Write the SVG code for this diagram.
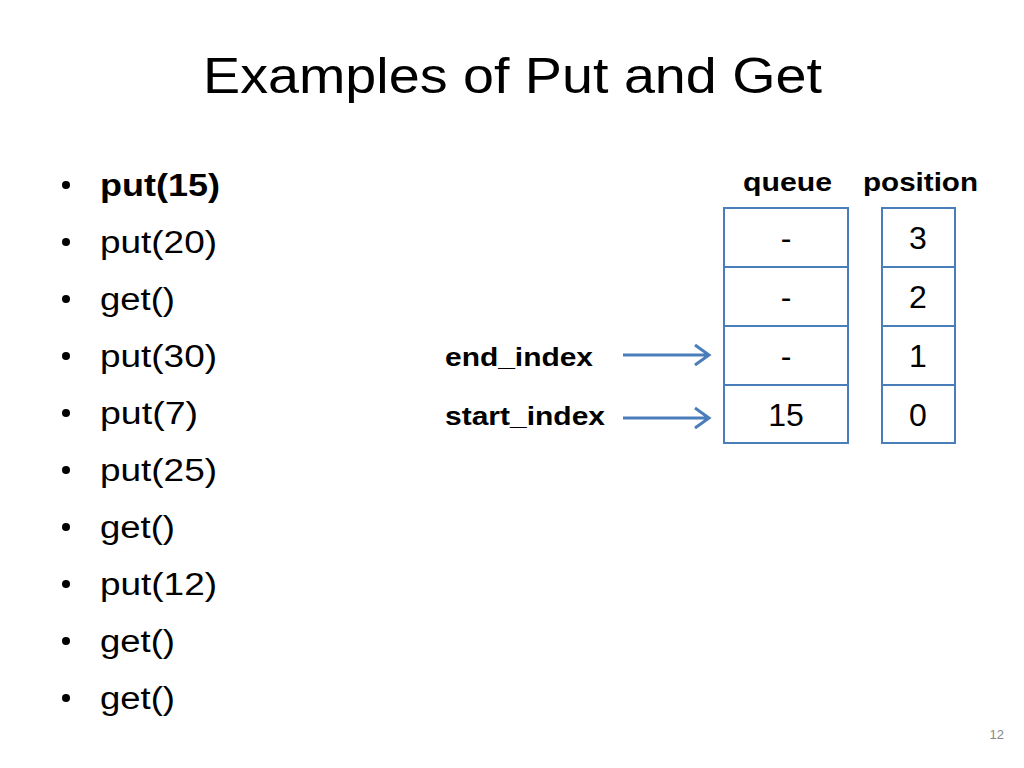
<svg xmlns="http://www.w3.org/2000/svg" width="1024" height="768" viewBox="0 0 1024 768">
<style>
text{font-family:"Liberation Sans",Arial,sans-serif;fill:#000}
.b{font-size:31px}
.c{stroke:#4a7ebb;stroke-width:2;fill:#fff}
.v{font-size:32px;text-anchor:middle}
.l{font-size:26px;font-weight:bold}
.a{stroke:#4a7ebb;stroke-width:3;fill:none}
</style>
<rect width="1024" height="768" fill="#fff"/>
<text x="203" y="93" font-size="50" textLength="619" lengthAdjust="spacingAndGlyphs">Examples of Put and Get</text>
<g id="list">
<g font-size="31"><circle cx="66" cy="185" r="4"/><circle cx="66" cy="242" r="4"/><circle cx="66" cy="299" r="4"/><circle cx="66" cy="356" r="4"/><circle cx="66" cy="413" r="4"/><circle cx="66" cy="470" r="4"/><circle cx="66" cy="527" r="4"/><circle cx="66" cy="584" r="4"/><circle cx="66" cy="641" r="4"/><circle cx="66" cy="698" r="4"/></g>
<text class="b" x="100" y="196" font-weight="bold" textLength="120" lengthAdjust="spacingAndGlyphs">put(15)</text>
<text class="b" x="100" y="253" textLength="117" lengthAdjust="spacingAndGlyphs">put(20)</text>
<text class="b" x="100" y="310" textLength="75" lengthAdjust="spacingAndGlyphs">get()</text>
<text class="b" x="100" y="367" textLength="117" lengthAdjust="spacingAndGlyphs">put(30)</text>
<text class="b" x="100" y="424" textLength="98" lengthAdjust="spacingAndGlyphs">put(7)</text>
<text class="b" x="100" y="481" textLength="117" lengthAdjust="spacingAndGlyphs">put(25)</text>
<text class="b" x="100" y="538" textLength="75" lengthAdjust="spacingAndGlyphs">get()</text>
<text class="b" x="100" y="595" textLength="117" lengthAdjust="spacingAndGlyphs">put(12)</text>
<text class="b" x="100" y="652" textLength="75" lengthAdjust="spacingAndGlyphs">get()</text>
<text class="b" x="100" y="709" textLength="75" lengthAdjust="spacingAndGlyphs">get()</text>
</g>
<text x="743" y="191" font-size="26" font-weight="bold" textLength="89" lengthAdjust="spacingAndGlyphs">queue</text>
<text x="863" y="191" font-size="26" font-weight="bold" textLength="115" lengthAdjust="spacingAndGlyphs">position</text>
<g id="queue">
<rect class="c" x="724" y="208" width="124" height="59"/><text class="v" x="786" y="249">-</text>
<rect class="c" x="724" y="267" width="124" height="59"/><text class="v" x="786" y="308">-</text>
<rect class="c" x="724" y="326" width="124" height="59"/><text class="v" x="786" y="367">-</text>
<rect class="c" x="724" y="385" width="124" height="58"/><text class="v" x="786" y="426">15</text>
</g>
<g id="position">
<rect class="c" x="882" y="208" width="73" height="59"/><text class="v" x="918" y="249">3</text>
<rect class="c" x="882" y="267" width="73" height="59"/><text class="v" x="918" y="308">2</text>
<rect class="c" x="882" y="326" width="73" height="59"/><text class="v" x="918" y="367">1</text>
<rect class="c" x="882" y="385" width="73" height="58"/><text class="v" x="918" y="426">0</text>
</g>
<text class="l" x="445" y="366" textLength="148" lengthAdjust="spacingAndGlyphs">end_index</text>
<text class="l" x="445" y="425" textLength="160" lengthAdjust="spacingAndGlyphs">start_index</text>
<g id="connectors">
<path class="a" d="M623 355H709M695 345L709 355L695 365"/>
<path class="a" d="M623 418H709M695 408L709 418L695 428"/>
</g>
<text x="1004" y="739" font-size="13" fill="#888" text-anchor="end" style="fill:#888">12</text>
</svg>
